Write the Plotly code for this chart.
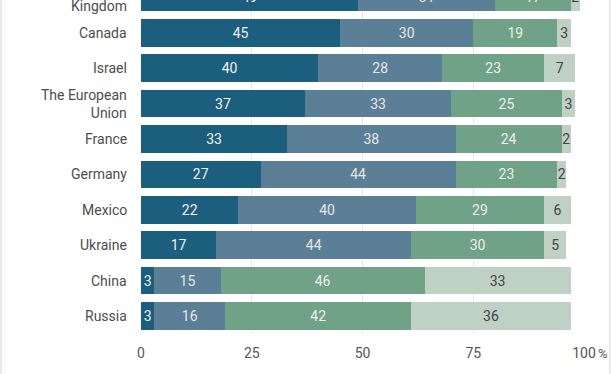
import plotly.graph_objects as go

countries = ["United<br>Kingdom", "Canada", "Israel", "The European<br>Union", "France",
             "Germany", "Mexico", "Ukraine", "China", "Russia"]
s1 = [49, 45, 40, 37, 33, 27, 22, 17, 3, 3]
s2 = [31, 30, 28, 33, 38, 44, 40, 44, 15, 16]
s3 = [17, 19, 23, 25, 24, 23, 29, 30, 46, 42]
s4 = [2, 3, 7, 3, 2, 2, 6, 5, 33, 36]
x_ticks = [0, 25, 50, 75, 100]
x_ticktext = ["0", "25", "50", "75", "100"]

series = [
    (s1, "#1b5e7d", "#f0f0f0"),
    (s2, "#5b7f96", "#e6e6e6"),
    (s3, "#6fa286", "#eeeeee"),
    (s4, "#bfd0c4", "#444444"),
]

cats = countries[::-1]
y0, y1 = -0.48, 8.927
fig = go.Figure()
for vals, col, tcol in series:
    v = vals[::-1]
    fig.add_trace(go.Bar(
        y=cats, x=v, orientation="h",
        marker=dict(color=col, line=dict(width=0)),
        text=[str(a) for a in v], textposition="inside", insidetextanchor="middle",
        textangle=0, constraintext="none",
        textfont=dict(family="Roboto", size=14, color=tcol),
        hoverinfo="skip", showlegend=False,
    ))

annots = []
for i, c in enumerate(cats):
    annots.append(dict(x=0, xref="paper", y=(i - y0) / (y1 - y0), yref="paper", text=c,
                       showarrow=False, xanchor="right", yanchor="middle", align="right",
                       xshift=-12, font=dict(family="Roboto", size=14, color="#4d4d4d")))
annots.append(dict(x=100, xref="x", y=0, yref="paper", text="%", showarrow=False,
                   xanchor="left", yanchor="top", xshift=12, yshift=-11,
                   font=dict(family="Roboto", size=13, color="#555555")))

shapes = [
    dict(type="line", xref="paper", yref="paper", x0=-0.316, x1=-0.316, y0=-0.2, y1=1.1,
         line=dict(color="#e4e4e4", width=1.5)),
    dict(type="line", xref="paper", yref="paper", x0=1.058, x1=1.058, y0=-0.2, y1=1.1,
         line=dict(color="#e4e4e4", width=1.5)),
]

fig.update_layout(
    barmode="stack", bargap=0.223,
    width=612, height=374,
    margin=dict(l=141, r=28, t=0, b=41, autoexpand=False),
    paper_bgcolor="white", plot_bgcolor="white",
    font=dict(family="Roboto", size=14, color="#555555"),
    annotations=annots, shapes=shapes,
    xaxis=dict(range=[0, 100], tickvals=x_ticks, ticktext=x_ticktext, showgrid=True,
               gridcolor="#e8e8e8", gridwidth=1, zeroline=False, showline=False,
               ticks="", ticklabelstandoff=10,
               tickfont=dict(family="Roboto", size=14, color="#555555"),
               automargin=False, fixedrange=True),
    yaxis=dict(categoryorder="array", categoryarray=cats, range=[y0, y1],
               showticklabels=False, showgrid=False, zeroline=False, ticks="",
               automargin=False, fixedrange=True),
)

fig.write_html("out.html", config={"displayModeBar": False},
               post_script="document.body.style.margin='0';")
